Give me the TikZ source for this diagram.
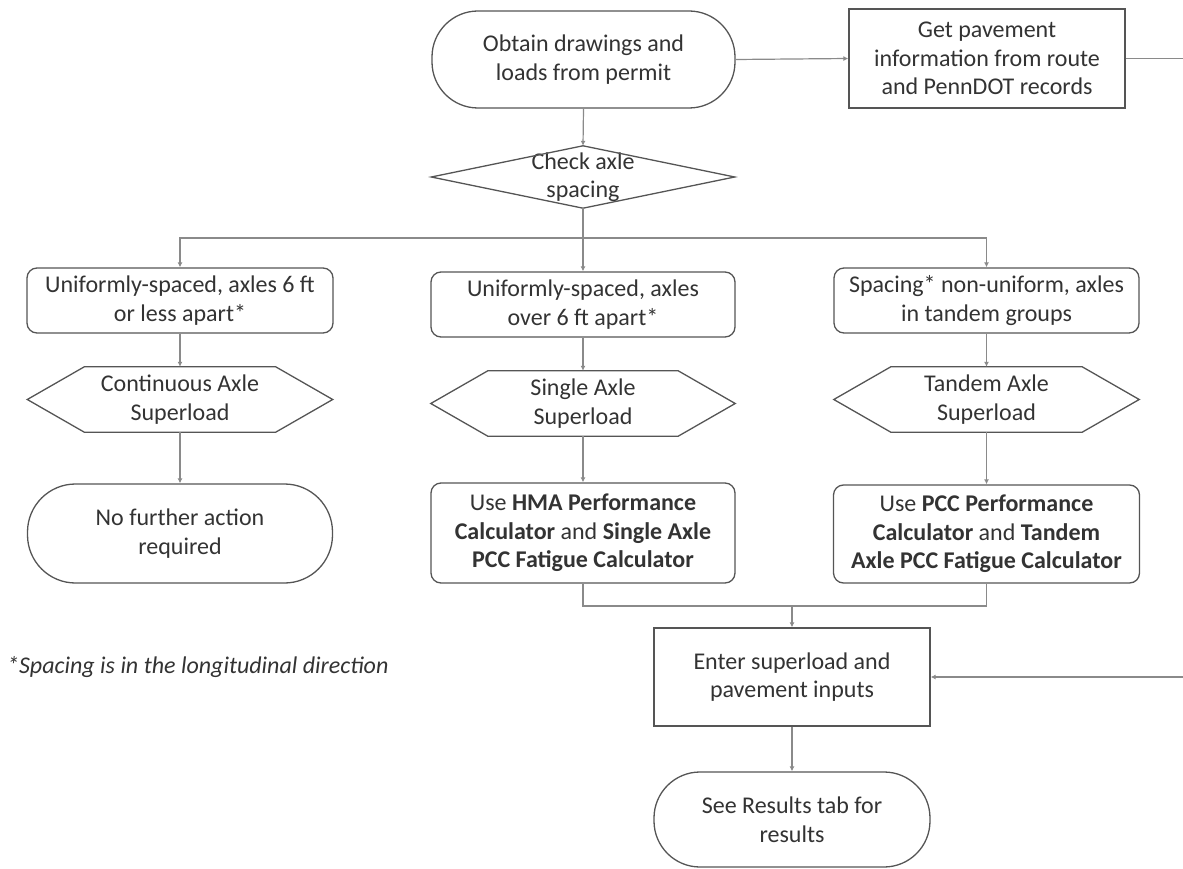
\documentclass[tikz,border=0pt]{standalone}
\usepackage{fontspec}
\setmainfont{Carlito}
\usetikzlibrary{arrows.meta,calc}
\definecolor{txt}{HTML}{333333}
\definecolor{bord}{HTML}{555555}
\definecolor{connc}{HTML}{8A8A8A}
\newcommand\hexdraw[1]{\draw[border] (#1.west) -- ($(#1.north west)+(57,0)$) -- ($(#1.north east)+(-57,0)$) -- (#1.east) -- ($(#1.south east)+(-57,0)$) -- ($(#1.south west)+(57,0)$) -- cycle;}
\begin{document}
\begin{tikzpicture}[x=1pt,y=-1pt,
  every node/.style={font=\fontsize{24}{28.5}\selectfont, text=txt, align=center, inner sep=0pt},
  border/.style={draw=bord, line width=1.3pt},
  base/.style={border, fill=white},
  term/.style={base, rounded corners=46pt},
  proc/.style={base, rounded corners=10pt},
  sq/.style={base},
  shapebox/.style={inner sep=0pt},
  conn/.style={draw=connc, line width=1.2pt, -{Latex[length=5pt,width=5pt]}},
  plain/.style={draw=connc, line width=1.2pt}
]
\useasboundingbox (0,0) rectangle (1183,869);

% top row
\node[term, minimum width=303pt, minimum height=97pt] (start) at (583.5,59.5) {Obtain drawings and\\loads from permit};
\node[sq, minimum width=276pt, minimum height=99pt] (pave) at (987,58.5) {Get pavement\\information from route\\and PennDOT records};

% decision
\node[shapebox, minimum width=303pt, minimum height=62pt] (check) at (583,177) {Check axle\\spacing};
\draw[border] (check.north) -- (check.east) -- (check.south) -- (check.west) -- cycle;

% process boxes
\node[proc, minimum width=306pt, minimum height=65pt] (p1) at (180,300.5) {Uniformly-spaced, axles 6 ft\\or less apart*};
\node[proc, minimum width=304pt, minimum height=65pt] (p2) at (583,304.5) {Uniformly-spaced, axles\\over 6 ft apart*};
\node[proc, minimum width=305pt, minimum height=65pt] (p3) at (986.5,300.5) {Spacing* non-uniform, axles\\in tandem groups};

% hexagons
\node[shapebox, minimum width=305pt, minimum height=65pt] (h1) at (180,399.5) {Continuous Axle\\Superload};
\node[shapebox, minimum width=304pt, minimum height=65pt] (h2) at (583,403.5) {Single Axle\\Superload};
\node[shapebox, minimum width=305pt, minimum height=65pt] (h3) at (986.5,399.5) {Tandem Axle\\Superload};
\hexdraw{h1}
\hexdraw{h2}
\hexdraw{h3}

% bottom row
\node[term, minimum width=305pt, minimum height=99pt, rounded corners=48pt] (e1) at (180,533.5) {No further action\\required};
\node[proc, minimum width=304pt, minimum height=100pt] (b2) at (583,533) {Use \textbf{HMA Performance}\\\textbf{Calculator} and \textbf{Single Axle}\\\textbf{PCC Fatigue Calculator}};
\node[proc, minimum width=306pt, minimum height=98pt] (b3) at (986.5,534) {Use \textbf{PCC Performance}\\\textbf{Calculator} and \textbf{Tandem}\\\textbf{Axle PCC Fatigue Calculator}};

\node[sq, minimum width=276pt, minimum height=98pt] (enter) at (792,677) {Enter superload and\\pavement inputs};
\node[term, minimum width=276pt, minimum height=95pt] (res) at (792,819.5) {See Results tab for\\results};

\node[anchor=west, font=\itshape\fontsize{24}{28.5}\selectfont] (note) at (7,667) {*Spacing is in the longitudinal direction};

% connectors
\draw[conn] (start.east) -- (pave.west);
\draw[conn] (start.south) -- (check.north);
\coordinate (br) at (583,238);
\draw[plain] (check.south) -- (br);
\draw[conn] (br) -| (p1.north);
\draw[conn] (br) -- (p2.north);
\draw[conn] (br) -| (p3.north);
\draw[conn] (p1.south) -- (h1.north);
\draw[conn] (p2.south) -- (h2.north);
\draw[conn] (p3.south) -- (h3.north);
\draw[conn] (h1.south) -- (e1.north);
\draw[conn] (h2.south) -- (b2.north);
\draw[conn] (h3.south) -- (b3.north);
\coordinate (m) at (792,606);
\draw[plain] (b2.south) -- (b2.south |- m) -- (b3.south |- m) -- (b3.south);
\draw[conn] (m) -- (enter.north);
\draw[conn] (enter.south) -- (res.north);
\coordinate (rt) at (1200,58.5);
\draw[conn] (pave.east) -- (rt) |- (enter.east);
\end{tikzpicture}
\end{document}
